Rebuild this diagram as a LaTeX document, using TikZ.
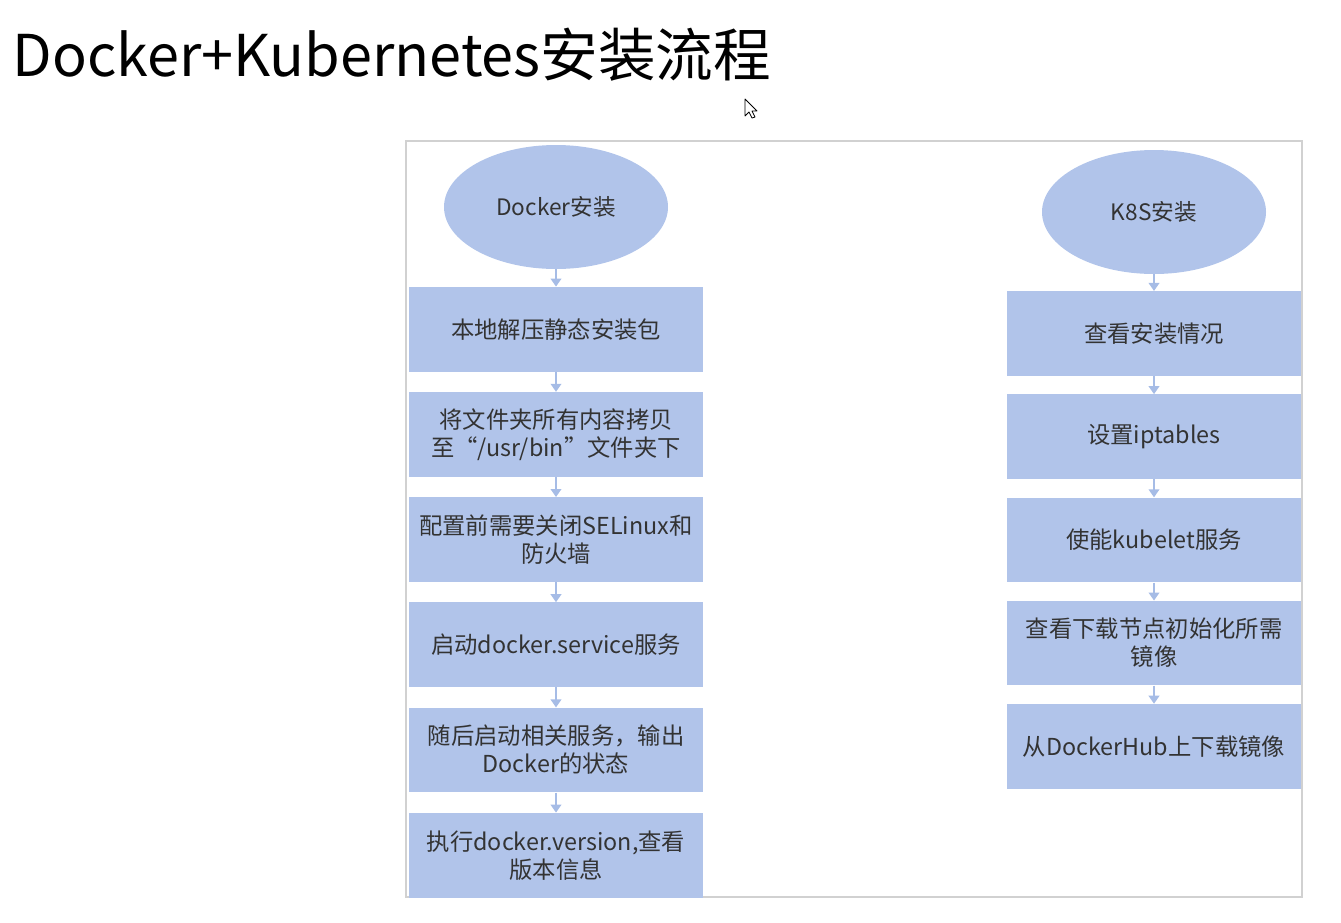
\documentclass[tikz,border=0pt]{standalone}
\usepackage{fontspec}
\setmainfont{Noto Sans CJK SC}
\usetikzlibrary{positioning, shapes.geometric, arrows.meta}

\definecolor{stepfill}{HTML}{B1C4EA}
\definecolor{steparrow}{HTML}{A6BCE6}
\definecolor{steptext}{HTML}{333333}

\tikzset{
    startnode/.style={ellipse, fill=stepfill, minimum width=168pt, minimum height=93pt,
        inner sep=0pt, font=\fontsize{17}{20}\selectfont, text=steptext},
    stepbox/.style={rectangle, fill=stepfill, minimum width=220.5pt, minimum height=63.5pt,
        inner sep=0pt, align=center, font=\fontsize{17.5}{21}\selectfont, text=steptext},
    flow/.style={draw=steparrow, line width=1.2pt, -{Triangle[width=8pt,length=6pt]}}
}

\begin{document}
\begin{tikzpicture}[x=0.75pt, y=-0.75pt]
        \useasboundingbox (0,0) rectangle (1341,922);
        \node[anchor=west, font=\fontsize{43.2}{48}\selectfont] (title) at (8,55) {Docker+Kubernetes安装流程};
        \draw[black!18, line width=0.8pt] (406,141) rectangle (1302,897);

        % Docker column
        \node[startnode] (d0) at (556,207) {Docker安装};
        \node[stepbox, below=13pt of d0] (d1) {本地解压静态安装包};
        \node[stepbox, below=15pt of d1] (d2) {将文件夹所有内容拷贝\\至“/usr/bin”文件夹下};
        \node[stepbox, below=15pt of d2] (d3) {配置前需要关闭SELinux和\\防火墙};
        \node[stepbox, below=15pt of d3] (d4) {启动docker.service服务};
        \node[stepbox, below=15pt of d4] (d5) {随后启动相关服务，输出\\Docker的状态};
        \node[stepbox, below=15pt of d5] (d6) {执行docker.version,查看\\版本信息};

        % K8S column
        \node[startnode] (k0) at (1154,212) {K8S安装};
        \node[stepbox, below=12.5pt of k0] (k1) {查看安装情况};
        \node[stepbox, below=13.5pt of k1] (k2) {设置iptables};
        \node[stepbox, below=13.5pt of k2] (k3) {使能kubelet服务};
        \node[stepbox, below=13.5pt of k3] (k4) {查看下载节点初始化所需\\镜像};
        \node[stepbox, below=13.5pt of k4] (k5) {从DockerHub上下载镜像};

        \foreach \a/\b in {d0/d1, d1/d2, d2/d3, d3/d4, d4/d5, d5/d6,
                           k0/k1, k1/k2, k2/k3, k3/k4, k4/k5}
            \draw[flow] (\a) -- (\b);

        % mouse pointer
        \draw[fill=white, line width=0.6pt, line join=round]
            (745,99) -- (745,116) -- (749,112) -- (752,118) -- (755,117)
            -- (752,111) -- (757,111) -- cycle;
    \end{tikzpicture}
\end{document}
